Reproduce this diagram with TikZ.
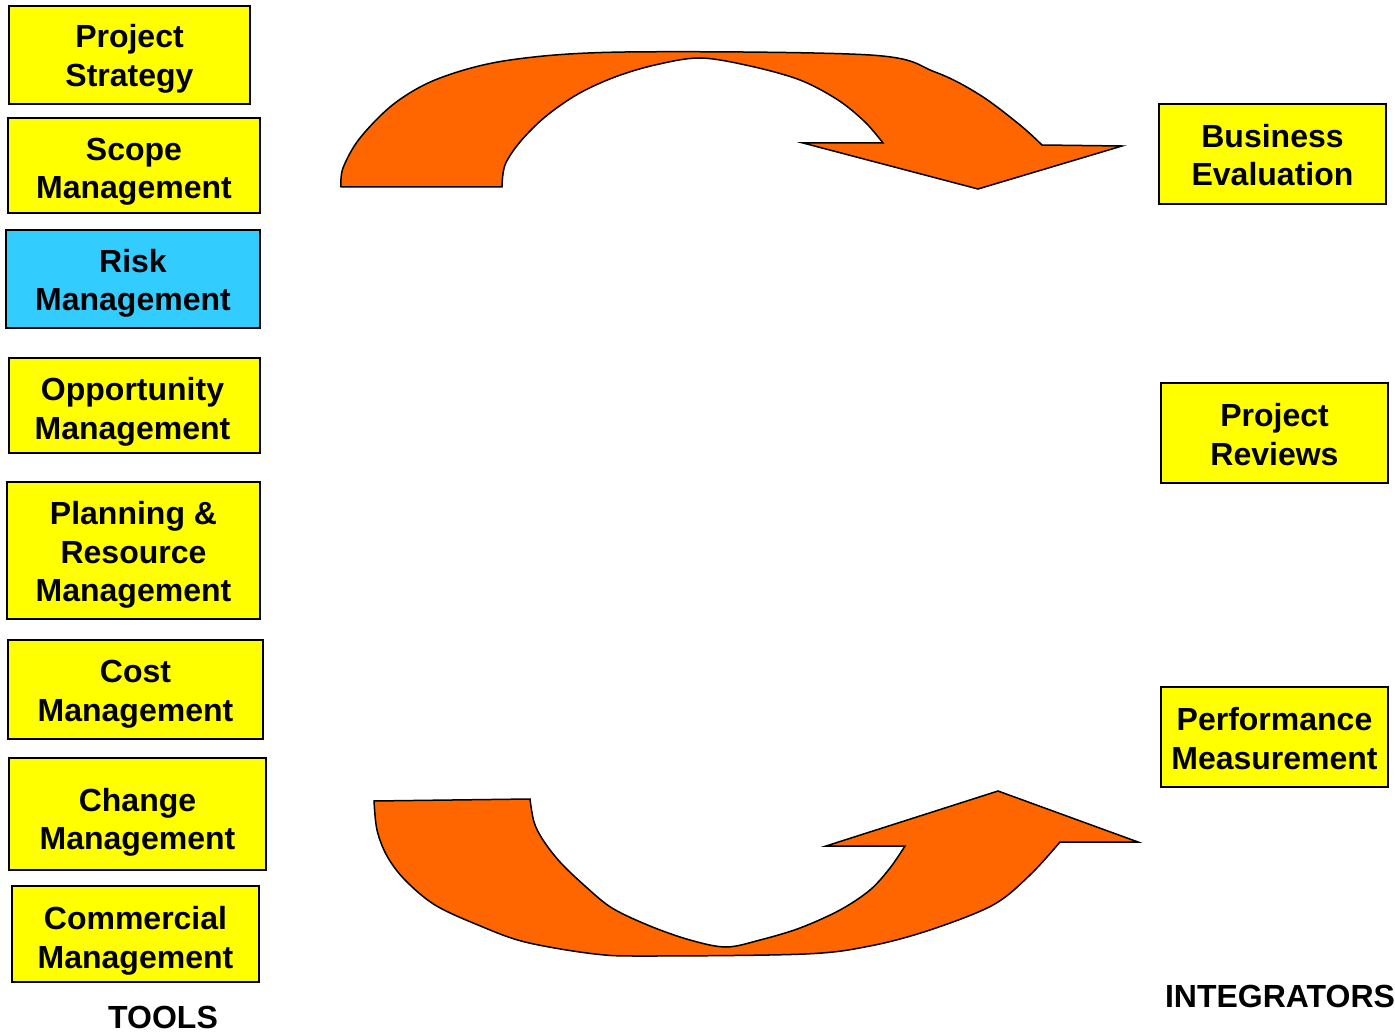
\documentclass[tikz,border=0pt]{standalone}
\usepackage{fontspec}
\setmainfont{Liberation Sans}
\definecolor{boxyellow}{HTML}{FFFF00}
\definecolor{riskcyan}{HTML}{33CCFF}
\definecolor{arroworange}{HTML}{FF6600}
\begin{document}
\begin{tikzpicture}[x=1pt,y=-1pt,
  box/.style={draw=black,line width=2pt,fill=boxyellow,inner sep=0pt},
  boxtext/.style={align=center,font=\fontsize{32}{38.5}\selectfont\bfseries,inner sep=0pt},
  lbl/.style={font=\fontsize{32}{38}\selectfont\bfseries,inner sep=0pt},
  bigarrow/.style={fill=arroworange,draw=black,line width=1.5pt,line join=miter}]
\useasboundingbox (0,0) rectangle (1395,1032);

% left column: tools
\node[box,minimum width=241,minimum height=98,
  label={[boxtext,yshift=-4pt]center:Project\\Strategy}] (ps) at (129.5,55) {};
\node[box,minimum width=252,minimum height=95,
  label={[boxtext,yshift=-6pt]center:Scope\\Management}] (sm) at (134,165.5) {};
\node[box,fill=riskcyan,minimum width=254,minimum height=98,
  label={[boxtext,yshift=-4.5pt]center:Risk\\Management}] (rm) at (133,279) {};
\node[box,minimum width=251,minimum height=95,
  label={[boxtext,yshift=-6.5pt,xshift=-2pt]center:Opportunity\\Management}] (om) at (134.5,405.5) {};
\node[box,minimum width=253,minimum height=137,
  label={[boxtext,yshift=-4.5pt]center:Planning \&\\Resource\\Management}] (pr) at (133.5,550.5) {};
\node[box,minimum width=255,minimum height=99,
  label={[boxtext,yshift=-4.5pt]center:Cost\\Management}] (cm) at (135.5,689.5) {};
\node[box,minimum width=257,minimum height=112,
  label={[boxtext,yshift=-8.5pt]center:Change\\Management}] (chm) at (137.5,814) {};
\node[box,minimum width=247,minimum height=96,
  label={[boxtext,yshift=-7pt]center:Commercial\\Management}] (com) at (135.5,934) {};
\node[lbl] (tools) at (163,1017) {TOOLS};

% right column: integrators
\node[box,minimum width=227,minimum height=100,
  label={[boxtext,yshift=-1pt]center:Business\\Evaluation}] (be) at (1272.5,154) {};
\node[box,minimum width=227,minimum height=100,
  label={[boxtext,yshift=-1.5pt]center:Project\\Reviews}] (prv) at (1274.5,433) {};
\node[box,minimum width=227,minimum height=100,
  label={[boxtext,yshift=-1.5pt]center:Performance\\Measurement}] (pm) at (1274.5,737) {};
\node[lbl] (integ) at (1280,996) {INTEGRATORS};

% top curved arrow
\path[bigarrow] (341,187)
  -- plot[smooth,tension=0.55] coordinates {(341,187) (343,168) (360,138) (395,103) (440,78) (510,60) (625,52) (870,55) (935,72) (980,95) (1020,125) (1042,145)}
  -- (1122,146) -- (978,189) -- (803,143) -- (883,143)
  -- plot[smooth,tension=0.55] coordinates {(883,143) (865,122) (838,100) (800,80) (750,66) (700,58) (655,65) (615,77) (578,94) (545,117) (520,142) (505,165) (502,187)}
  -- cycle;

% bottom curved arrow
\path[bigarrow] (374,801)
  -- plot[smooth,tension=0.55] coordinates {(374,801) (377,830) (387,856) (405,880) (435,905) (478,925) (525,942) (595,954) (650,956) (805,954) (870,946) (930,930) (993,905) (1030,875) (1060,842)}
  -- (1138,842) -- (998,791) -- (826,846) -- (905,846)
  -- plot[smooth,tension=0.55] coordinates {(905,846) (890,868) (870,890) (840,910) (800,928) (760,940) (726,947) (690,940) (650,926) (612,908) (585,886) (560,862) (543,840) (534,822) (530,799)}
  -- cycle;
\end{tikzpicture}
\end{document}
